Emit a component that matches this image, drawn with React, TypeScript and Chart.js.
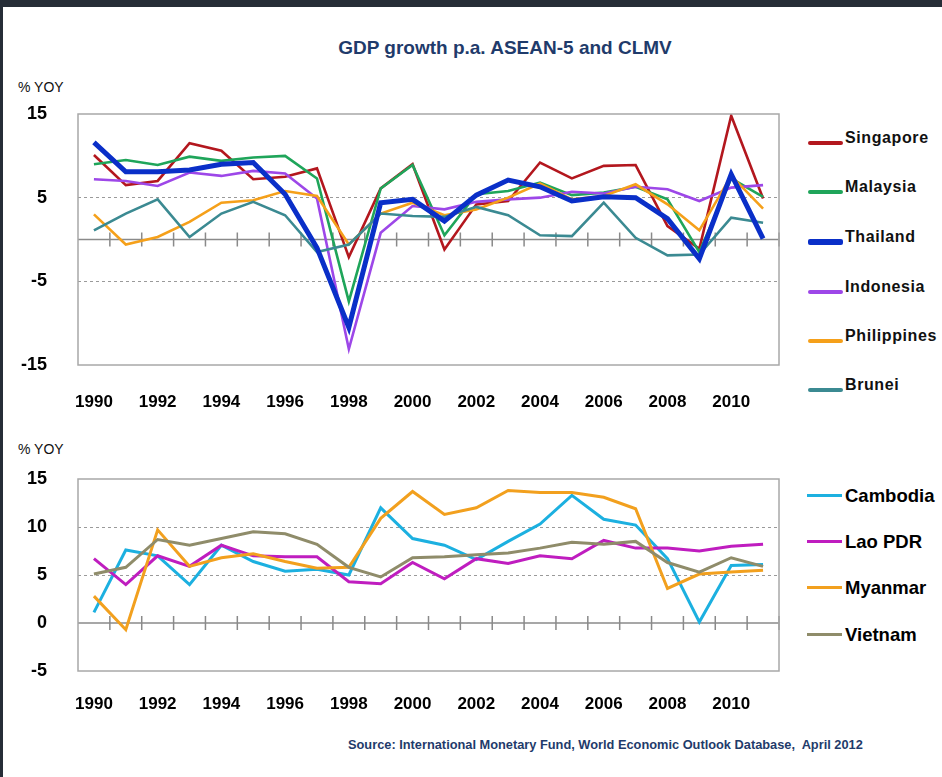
import React, { useEffect, useRef } from "react";
import { Chart, registerables } from "chart.js";

Chart.register(...registerables);

// ---------- data ----------
const years = [
  "1990", "1991", "1992", "1993", "1994", "1995", "1996", "1997", "1998", "1999", "2000",
  "2001", "2002", "2003", "2004", "2005", "2006", "2007", "2008", "2009", "2010", "2011",
];

const singapore = [10.1, 6.5, 7.0, 11.5, 10.6, 7.2, 7.5, 8.5, -2.1, 6.1, 9.0, -1.2, 4.2, 4.6, 9.2, 7.3, 8.8, 8.9, 1.6, -1.1, 14.8, 4.9];
const malaysia = [9.0, 9.5, 8.9, 9.9, 9.4, 9.8, 10.0, 7.3, -7.4, 6.1, 8.9, 0.5, 5.4, 5.8, 6.8, 5.3, 5.6, 6.3, 4.8, -1.5, 7.3, 5.1];
const thailand = [11.6, 8.1, 8.1, 8.3, 9.0, 9.2, 5.4, -1.0, -10.5, 4.4, 4.8, 2.2, 5.3, 7.1, 6.3, 4.6, 5.1, 5.0, 2.5, -2.3, 7.8, 0.1];
const indonesia = [7.2, 7.0, 6.4, 8.0, 7.6, 8.2, 7.9, 4.9, -13.1, 0.8, 4.0, 3.6, 4.5, 4.8, 5.0, 5.7, 5.5, 6.3, 6.0, 4.6, 6.2, 6.5];
const philippines = [3.0, -0.6, 0.3, 2.1, 4.4, 4.7, 5.8, 5.2, -0.6, 3.1, 4.4, 2.9, 3.6, 5.0, 6.7, 4.8, 5.2, 6.6, 4.2, 1.1, 7.6, 3.7];
const brunei = [1.1, 3.1, 4.8, 0.3, 3.1, 4.5, 2.9, -1.5, -0.6, 3.1, 2.8, 2.7, 3.9, 2.9, 0.5, 0.4, 4.4, 0.2, -1.9, -1.8, 2.6, 2.0];

const cambodia = [1.1, 7.6, 7.0, 4.0, 8.1, 6.4, 5.4, 5.6, 5.0, 12.0, 8.8, 8.1, 6.6, 8.5, 10.3, 13.3, 10.8, 10.2, 6.7, 0.1, 6.0, 6.1];
const laoPdr = [6.7, 4.0, 7.0, 5.9, 8.1, 7.0, 6.9, 6.9, 4.3, 4.1, 6.3, 4.6, 6.7, 6.2, 7.0, 6.7, 8.6, 7.8, 7.8, 7.5, 8.0, 8.2];
const myanmar = [2.8, -0.7, 9.7, 5.9, 6.8, 7.2, 6.4, 5.7, 5.8, 10.9, 13.7, 11.3, 12.0, 13.8, 13.6, 13.6, 13.1, 11.9, 3.6, 5.1, 5.3, 5.5];
const vietnam = [5.1, 5.8, 8.7, 8.1, 8.8, 9.5, 9.3, 8.2, 5.8, 4.8, 6.8, 6.9, 7.1, 7.3, 7.8, 8.4, 8.2, 8.5, 6.3, 5.3, 6.8, 5.9];

const topTicks = [-15, -5, 5, 15];
const bottomTicks = [-5, 0, 5, 10, 15];

const topNames = ["Singapore", "Malaysia", "Thailand", "Indonesia", "Philippines", "Brunei"];
const bottomNames = ["Cambodia", "Lao PDR", "Myanmar", "Vietnam"];

// ---------- styles ----------
const SANS = "'Liberation Sans', Arial, sans-serif";

const topColors = ["#B3171E", "#1FA55A", "#0A2FC8", "#9D47E8", "#F5A01A", "#3B8A92"];
const topWidths = [2.6, 2.6, 5, 2.6, 2.6, 2.6];
const bottomColors = ["#1CB0E0", "#BF1DBF", "#F2A01E", "#8F8C6A"];
const bottomWidths = [3, 3, 3, 3];

const framePlugin = {
  id: "frame",
  beforeDatasetsDraw(chart: any) {
    const { ctx, chartArea: a, scales } = chart;
    const y0 = scales.y.getPixelForValue(0);
    const x = scales.x;
    const n = chart.data.labels.length;
    const half = (x.getPixelForValue(1) - x.getPixelForValue(0)) / 2;
    ctx.save();
    ctx.strokeStyle = "#8a8a8a";
    ctx.lineWidth = 1.5;
    ctx.beginPath();
    ctx.moveTo(a.left, y0);
    ctx.lineTo(a.right, y0);
    for (let i = 0; i < n; i++) {
      const bx = x.getPixelForValue(i) + half;
      ctx.moveTo(bx, y0 - 7);
      ctx.lineTo(bx, y0 + 7);
    }
    ctx.stroke();
    ctx.restore();
  },
  afterDraw(chart: any) {
    const { ctx, chartArea: a } = chart;
    ctx.save();
    ctx.strokeStyle = "#a8a8a8";
    ctx.lineWidth = 1.5;
    ctx.strokeRect(a.left, a.top, a.right - a.left, a.bottom - a.top);
    ctx.restore();
  },
};

function makeConfig(
  series: number[][],
  colors: string[],
  widths: number[],
  names: string[],
  min: number,
  max: number,
  ticks: number[],
  dashed: number[],
  padTop: number,
  xHeight: number,
  labelPad: number,
  topIdx: number
) {
  return {
    type: "line",
    data: {
      labels: years,
      datasets: series.map((d, i) => ({
        label: names[i],
        data: d,
        borderColor: colors[i],
        backgroundColor: colors[i],
        borderWidth: widths[i],
        pointRadius: 0,
        tension: 0,
        fill: false,
        order: i === topIdx ? 0 : series.length - i,
      })),
    },
    options: {
      animation: false,
      responsive: false,
      maintainAspectRatio: false,
      devicePixelRatio: 1,
      layout: { padding: { top: padTop, right: 11, left: 0, bottom: 0 } },
      plugins: { legend: { display: false }, tooltip: { enabled: false }, title: { display: false } },
      scales: {
        x: {
          type: "category",
          offset: true,
          grid: { display: false, drawTicks: false },
          border: { display: false },
          ticks: {
            autoSkip: false,
            maxRotation: 0,
            minRotation: 0,
            padding: labelPad,
            color: "#000",
            font: { family: SANS, size: 17, weight: "bold" },
            callback: function (this: any, val: any, idx: number) {
              return idx % 2 === 0 ? this.getLabelForValue(val) : "";
            },
          },
          afterFit: (s: any) => {
            s.height = xHeight;
            s.paddingLeft = 0;
            s.paddingRight = 0;
          },
        },
        y: {
          min,
          max,
          grid: {
            drawTicks: false,
            lineWidth: 1,
            color: (c: any) => (c.tick && dashed.includes(c.tick.value) ? "#9a9a9a" : "rgba(0,0,0,0)"),
          },
          border: { display: false, dash: [3, 3] },
          ticks: {
            padding: 31,
            color: "#000",
            font: { family: SANS, size: 18, weight: "bold" },
          },
          afterBuildTicks: (s: any) => {
            s.ticks = ticks.map((v) => ({ value: v }));
          },
          afterFit: (s: any) => {
            s.width = 78;
            s.paddingTop = 0;
            s.paddingBottom = 0;
          },
        },
      },
    },
    plugins: [framePlugin],
  };
}

function LineChart(props: { config: any; width: number; height: number; style: any }) {
  const ref = useRef<HTMLCanvasElement | null>(null);
  useEffect(() => {
    if (!ref.current) return;
    const chart = new Chart(ref.current, props.config);
    return () => chart.destroy();
  }, []);
  return <canvas ref={ref} width={props.width} height={props.height} style={{ position: "absolute", ...props.style }} />;
}

const topLegendY = [143, 192, 242, 292, 341, 390];
const bottomLegendY = [495, 541, 587, 634];

export default function App() {
  const topConfig = makeConfig(
    [singapore, malaysia, thailand, indonesia, philippines, brunei],
    topColors,
    topWidths,
    topNames,
    -15,
    15,
    topTicks,
    [-5, 5],
    14,
    55,
    27,
    2
  );
  const bottomConfig = makeConfig(
    [cambodia, laoPdr, myanmar, vietnam],
    bottomColors,
    bottomWidths,
    bottomNames,
    -5,
    15,
    bottomTicks,
    [5, 10],
    19,
    49,
    23,
    -1
  );

  return (
    <div
      style={{
        position: "absolute",
        left: 0,
        top: 0,
        width: 942,
        height: 777,
        background: "#fff",
        overflow: "hidden",
        fontFamily: SANS,
      }}
    >
      <div style={{ position: "absolute", left: 0, top: 0, width: 942, height: 7, background: "#262d37" }} />
      <div style={{ position: "absolute", left: 0, top: 0, width: 3, height: 777, background: "#262d37" }} />

      <div
        style={{
          position: "absolute",
          left: 0,
          width: 1010,
          top: 37,
          textAlign: "center",
          fontWeight: "bold",
          fontSize: 19,
          lineHeight: "22px",
          color: "#1F3B6B",
          whiteSpace: "nowrap",
        }}
      >
        GDP growth p.a. ASEAN-5 and CLMV
      </div>

      <div style={{ position: "absolute", left: 18, top: 79, fontSize: 14, lineHeight: "16px", color: "#111" }}>% YOY</div>
      <div style={{ position: "absolute", left: 18, top: 441, fontSize: 14, lineHeight: "16px", color: "#111" }}>% YOY</div>

      <LineChart config={topConfig} width={790} height={320} style={{ left: 0, top: 100 }} />
      <LineChart config={bottomConfig} width={790} height={260} style={{ left: 0, top: 460 }} />

      {topNames.map((n, i) => (
        <React.Fragment key={n}>
          <div
            style={{
              position: "absolute",
              left: 808,
              width: 35,
              top: topLegendY[i] - topWidths[i] / 2 - 0.4,
              height: topWidths[i] + 0.8,
              borderRadius: 2,
              background: topColors[i],
            }}
          />
          <div
            style={{
              position: "absolute",
              left: 845,
              top: topLegendY[i] - 13.5,
              fontSize: 16,
              lineHeight: "16px",
              fontWeight: "bold",
              letterSpacing: 0.6,
              color: "#111",
              whiteSpace: "nowrap",
            }}
          >
            {n}
          </div>
        </React.Fragment>
      ))}

      {bottomNames.map((n, i) => (
        <React.Fragment key={n}>
          <div
            style={{
              position: "absolute",
              left: 807,
              width: 35,
              top: bottomLegendY[i] - 1.5,
              height: 3,
              background: bottomColors[i],
            }}
          />
          <div
            style={{
              position: "absolute",
              left: 845,
              top: bottomLegendY[i] - 9.5,
              fontSize: 18.5,
              lineHeight: "19px",
              fontWeight: "bold",
              color: "#000",
              whiteSpace: "nowrap",
            }}
          >
            {n}
          </div>
        </React.Fragment>
      ))}

      <div
        style={{
          position: "absolute",
          left: 348,
          top: 737,
          fontWeight: "bold",
          fontSize: 12.8,
          lineHeight: "15px",
          color: "#1F3B6B",
          whiteSpace: "nowrap",
        }}
      >
        Source: International Monetary Fund, World Economic Outlook Database,&nbsp; April 2012
      </div>
    </div>
  );
}
